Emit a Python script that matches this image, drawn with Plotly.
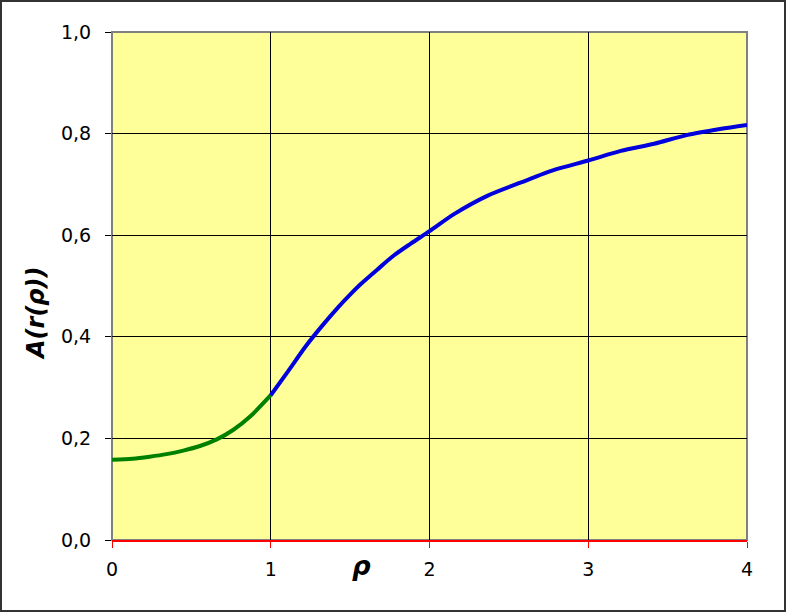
import plotly.graph_objects as go

# Data
rho_green = [0.0, 0.13, 0.237, 0.343, 0.449, 0.554, 0.66, 0.765, 0.87, 1.0]
a_green = [0.158, 0.160, 0.164, 0.169, 0.176, 0.185, 0.198, 0.217, 0.243, 0.285]

rho_blue = [1.0, 1.111, 1.217, 1.322, 1.427, 1.512, 1.564, 1.67, 1.775, 1.88, 2.0,
            2.157, 2.367, 2.577, 2.79, 3.0, 3.205, 3.415, 3.62, 3.83, 4.0]
a_blue = [0.285, 0.333, 0.380, 0.421, 0.459, 0.487, 0.503, 0.532, 0.560, 0.583, 0.608,
          0.642, 0.678, 0.704, 0.729, 0.747, 0.766, 0.780, 0.797, 0.809, 0.817]

x_ticks = [0, 1, 2, 3, 4]
x_labels = ["0", "1", "2", "3", "4"]
y_ticks = [0.0, 0.2, 0.4, 0.6, 0.8, 1.0]
y_labels = ["0,0", "0,2", "0,4", "0,6", "0,8", "1,0"]

FONT = "DejaVu Sans, Verdana, sans-serif"

fig = go.Figure()
fig.add_trace(go.Scatter(x=rho_green, y=a_green, mode="lines",
                         line=dict(color="#008000", width=4, shape="spline", smoothing=0.8),
                         showlegend=False))
fig.add_trace(go.Scatter(x=rho_blue, y=a_blue, mode="lines",
                         line=dict(color="#0000DD", width=4, shape="spline", smoothing=0.8),
                         showlegend=False))

L, R, T, B = 112, 40, 32, 73
W, H = 787, 613
pw, ph = W - L - R, H - T - B

fig.update_layout(
    width=W, height=H,
    margin=dict(l=L, r=R, t=T, b=B),
    paper_bgcolor="white",
    plot_bgcolor="#FFFF99",
    font=dict(family=FONT, size=19, color="black"),
    xaxis=dict(range=[0, 4], tickvals=x_ticks, ticktext=x_labels,
               showgrid=True, gridcolor="black", gridwidth=1,
               zeroline=False, showline=True, linecolor="red", linewidth=2,
               ticks="outside", tickcolor="red", ticklen=6, tickwidth=1,
               ticklabelstandoff=5,
               tickfont=dict(size=19, family=FONT)),
    yaxis=dict(range=[0, 1], tickvals=y_ticks, ticktext=y_labels,
               showgrid=True, gridcolor="black", gridwidth=1,
               zeroline=False, showline=False,
               ticks="outside", tickcolor="black", ticklen=6, tickwidth=1,
               ticklabelstandoff=10,
               tickfont=dict(size=19, family=FONT)),
    shapes=[
        # plot area grey border (top, right, left)
        dict(type="rect", xref="paper", yref="paper", x0=0, y0=0, x1=1, y1=1,
             line=dict(color="#808080", width=2), layer="below"),
        # outer chart border
        dict(type="rect", xref="paper", yref="paper",
             x0=(1 - L) / pw, x1=(W - 2 - L) / pw,
             y0=-(H - 2 - T - ph) / ph, y1=1 + (T - 1) / ph,
             line=dict(color="#333333", width=2)),
    ],
    annotations=[
        dict(text="<b><i>ρ</i></b>", xref="paper", yref="paper",
             x=(361 - L) / pw, y=-(583 - T - ph) / ph,
             showarrow=False, font=dict(size=26, family=FONT)),
        dict(text="<b><i>A(r(ρ))</i></b>", xref="paper", yref="paper",
             x=(20 - L) / pw, y=1 - (314 - T) / ph, textangle=-90,
             showarrow=False, font=dict(size=24, family=FONT)),
    ],
)

fig.write_html("out.html", config={"displayModeBar": False},
               post_script="document.body.style.margin='0';")
